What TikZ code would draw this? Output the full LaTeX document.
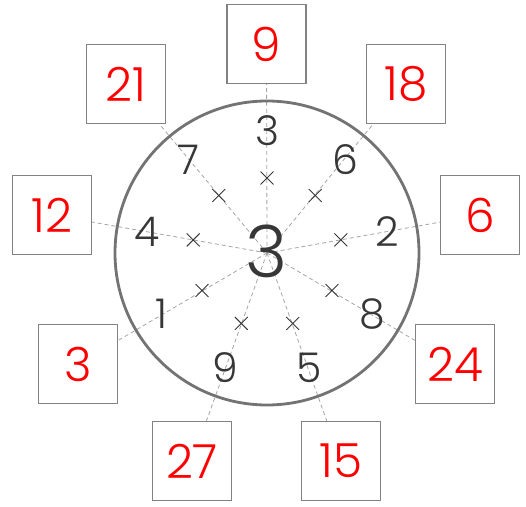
\documentclass[tikz,border=0pt]{standalone}
\usepackage{fontspec}
\setmainfont{Poppins Light}
\usetikzlibrary{shapes.misc,calc}
\definecolor{boxgray}{RGB}{130,130,130}
\definecolor{circgray}{RGB}{115,115,115}
\definecolor{dashgray}{RGB}{165,165,165}
\definecolor{txtgray}{RGB}{55,55,55}
\begin{document}
\begin{tikzpicture}[x=1pt,y=1pt,
 ansbox/.style={draw=boxgray, line width=1.2pt, minimum width=79pt, minimum height=79pt, inner sep=0pt, text=red, font=\fontsize{47}{47}\selectfont},
 innernum/.style={text=txtgray, font=\fontsize{41}{41}\selectfont, inner sep=0pt},
 bignum/.style={text=txtgray, font=\fontsize{72}{72}\selectfont, inner sep=0pt},
 xmark/.style={cross out, draw=txtgray, line width=0.9pt, minimum size=12pt, inner sep=0pt},
 spoke/.style={draw=dashgray, line width=0.8pt, dash pattern=on 4pt off 3pt},
 dial/.style={draw=circgray, line width=2.8pt}]
\useasboundingbox (0,0) rectangle (526,506);
\coordinate (c) at (267,253);
% answer boxes
\node[ansbox] (b1) at (266.5,462) {9};
\node[ansbox] (b2) at (406,422) {18};
\node[ansbox] (b3) at (480,291) {6};
\node[ansbox] (b4) at (455,142) {24};
\node[ansbox] (b5) at (341,45) {15};
\node[ansbox] (b6) at (192,45) {27};
\node[ansbox] (b7) at (78,142) {3};
\node[ansbox] (b8) at (52,291) {12};
\node[ansbox] (b9) at (126,422) {21};
% spokes
\foreach \i in {1,...,9} \draw[spoke] (c) -- (b\i);
% dial
\draw[dial] (c) circle[radius=152];
% inner numbers and crosses
\foreach \a/\n [count=\i] in {90/3,50/6,10/2,-30/8,-70/5,-110/9,-150/1,170/4,130/7} {
  \node[innernum] (n\i) at ($(c)+(\a:122)$) {\n};
  \node[xmark] (x\i) at ($(c)+(\a:75)$) {};
}
\node[bignum] (m) at (267,255) {3};
\end{tikzpicture}
\end{document}
